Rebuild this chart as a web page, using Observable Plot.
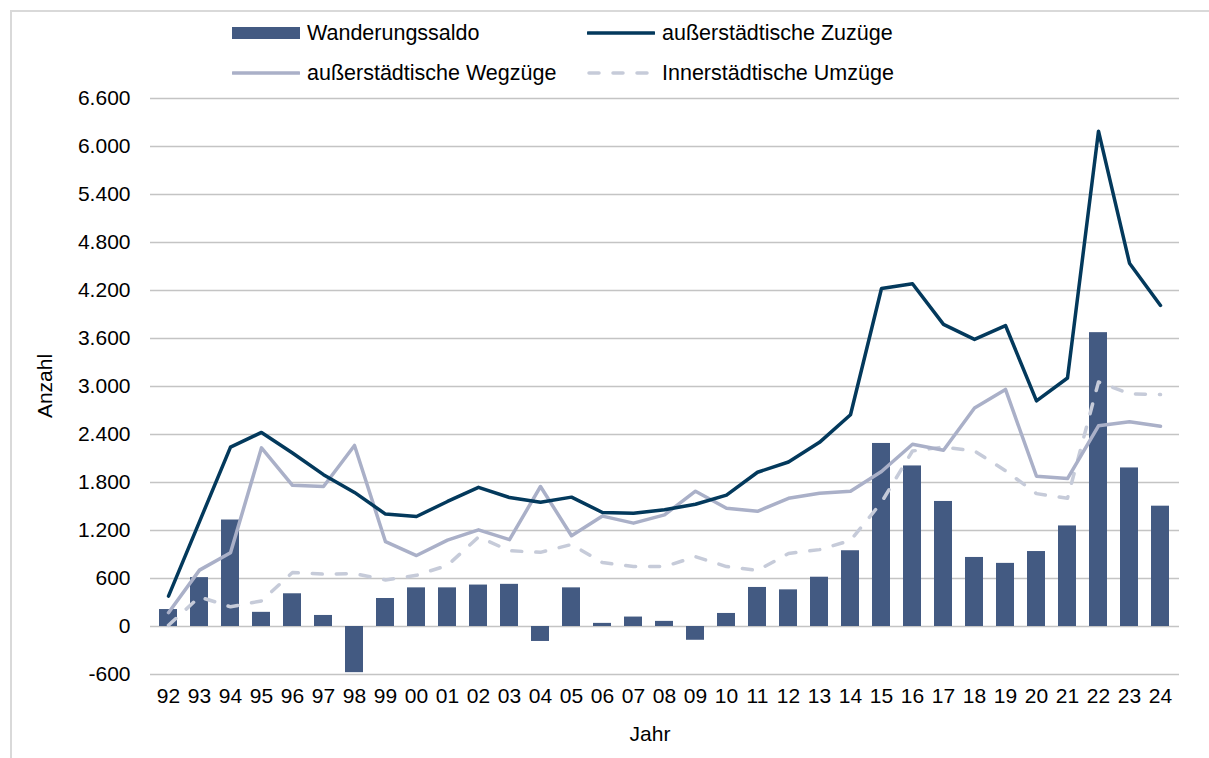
<!DOCTYPE html>
<html>
<head>
<meta charset="utf-8">
<script src="https://cdn.jsdelivr.net/npm/d3@7"></script>
<script src="https://cdn.jsdelivr.net/npm/@observablehq/plot@0.6"></script>
<style>
  html, body { margin: 0; padding: 0; background: #fff; }
  #wrap { position: relative; width: 1209px; height: 758px; overflow: hidden; font-family: "Liberation Sans", Arial, sans-serif; }
  #frame { position: absolute; left: 10px; top: 10px; width: 1300px; height: 900px; border-left: 2px solid #d9d9d9; border-top: 2px solid #d9d9d9; }
  #legend { position: absolute; left: 0; top: 0; width: 1209px; height: 60px; z-index: 2; }
  .item { position: absolute; display: flex; align-items: center; font-size: 21.5px; color: #000; white-space: nowrap; }
  .item svg { margin-right: 7px; }
  #chart { position: absolute; left: 0; top: 60px; }
  #ylabel { position: absolute; left: 45px; top: 386px; transform: translate(-50%, -50%) rotate(-90deg); font-size: 21px; color: #000; white-space: nowrap; }
</style>
</head>
<body>
<div id="wrap">
  <div id="frame"></div>
  <div id="chart"></div>
  <div id="legend"></div>
  <div id="ylabel">Anzahl</div>
</div>
<script>
const years = ["92","93","94","95","96","97","98","99","00","01","02","03","04","05","06","07","08","09","10","11","12","13","14","15","16","17","18","19","20","21","22","23","24"];
const saldo = [212,611,1331,177,409,138,-577,350,483,483,518,527,-187,483,39,118,64,-172,163,488,458,616,947,2288,2007,1563,863,789,937,1257,3673,1982,1504];
const zuzuege = [380,1311,2243,2426,2169,1898,1676,1405,1375,1563,1740,1612,1553,1617,1425,1415,1459,1528,1642,1928,2056,2302,2647,4225,4284,3776,3589,3762,2820,3106,6192,4541,4013];
const wegzuege = [173,705,922,2233,1765,1750,2263,1060,887,1080,1208,1085,1750,1134,1380,1292,1395,1691,1479,1440,1602,1666,1691,1937,2278,2204,2731,2963,1878,1849,2509,2559,2504];
const umzuege = [15,370,246,320,675,655,660,582,640,764,1119,947,927,1025,799,749,749,873,749,700,912,961,1075,1553,2194,2243,2194,1947,1661,1602,3057,2909,2899];
const yTicks = [-600,0,600,1200,1800,2400,3000,3600,4200,4800,5400,6000,6600];

const seriesNames = ["Wanderungssaldo","außerstädtische Zuzüge","außerstädtische Wegzüge","Innerstädtische Umzüge"];
const colors = {bar: "#435a82", zu: "#03395c", weg: "#aab0c8", um: "#c6cbd9"};

const rows = years.map((y, i) => ({year: y, saldo: saldo[i], zu: zuzuege[i], weg: wegzuege[i], um: umzuege[i]}));

const de = d3.formatLocale({decimal: ",", thousands: ".", grouping: [3], currency: ["", " €"], minus: "-"});
const fmt = de.format(",");

// Legend
const legend = document.getElementById("legend");
const items = [
  {name: seriesNames[0], kind: "bar", color: colors.bar, left: 232, top: 33},
  {name: seriesNames[1], kind: "line", color: colors.zu, left: 587, top: 33},
  {name: seriesNames[2], kind: "line", color: colors.weg, left: 232, top: 73},
  {name: seriesNames[3], kind: "dash", color: colors.um, left: 587, top: 73}
];
for (const it of items) {
  const d = document.createElement("div");
  d.className = "item";
  d.style.left = it.left + "px";
  d.style.top = (it.top - 12) + "px";
  d.style.height = "24px";
  let sw;
  if (it.kind === "bar") sw = `<svg width="68" height="14"><rect x="0" y="1" width="68" height="12" fill="${it.color}"/></svg>`;
  else if (it.kind === "line") sw = `<svg width="68" height="14"><line x1="1" x2="67" y1="7" y2="7" stroke="${it.color}" stroke-width="3.5" stroke-linecap="round"/></svg>`;
  else sw = `<svg width="68" height="14"><line x1="2" x2="67" y1="7" y2="7" stroke="${it.color}" stroke-width="3.5" stroke-linecap="round" stroke-dasharray="10,14"/></svg>`;
  d.innerHTML = sw + `<span>${it.name}</span>`;
  legend.appendChild(d);
}

const chart = Plot.plot({
  width: 1209,
  height: 698,
  marginTop: 38,
  marginBottom: 84,
  marginLeft: 150,
  marginRight: 30,
  style: {fontFamily: "Liberation Sans, Arial, sans-serif", fontSize: "21px", color: "#000", background: "transparent"},
  x: {type: "band", domain: years, paddingInner: 0.41, paddingOuter: 0.205, label: null},
  y: {domain: [-600, 6600], label: null},
  marks: [
    Plot.ruleY(yTicks, {stroke: "#c4c4c4", strokeWidth: 1.4}),
    Plot.axisY({ticks: yTicks, tickFormat: fmt, tickSize: 0, tickPadding: 20, fontSize: 21, label: null}),
    Plot.axisX({tickSize: 0, tickPadding: 14, fontSize: 21, label: null}),
    Plot.barY(rows, {x: "year", y: "saldo", fill: colors.bar}),
    Plot.lineY(rows, {x: "year", y: "um", stroke: colors.um, strokeWidth: 3.5, strokeDasharray: "10,14", strokeLinecap: "round", strokeLinejoin: "round"}),
    Plot.lineY(rows, {x: "year", y: "weg", stroke: colors.weg, strokeWidth: 3.5, strokeLinejoin: "round", strokeLinecap: "round"}),
    Plot.lineY(rows, {x: "year", y: "zu", stroke: colors.zu, strokeWidth: 3.5, strokeLinejoin: "round", strokeLinecap: "round"}),
    Plot.text(["Jahr"], {frameAnchor: "bottom", dx: -15, dy: 66, fontSize: 21, fill: "#000"})
  ]
});
document.getElementById("chart").appendChild(chart);
</script>
</body>
</html>
